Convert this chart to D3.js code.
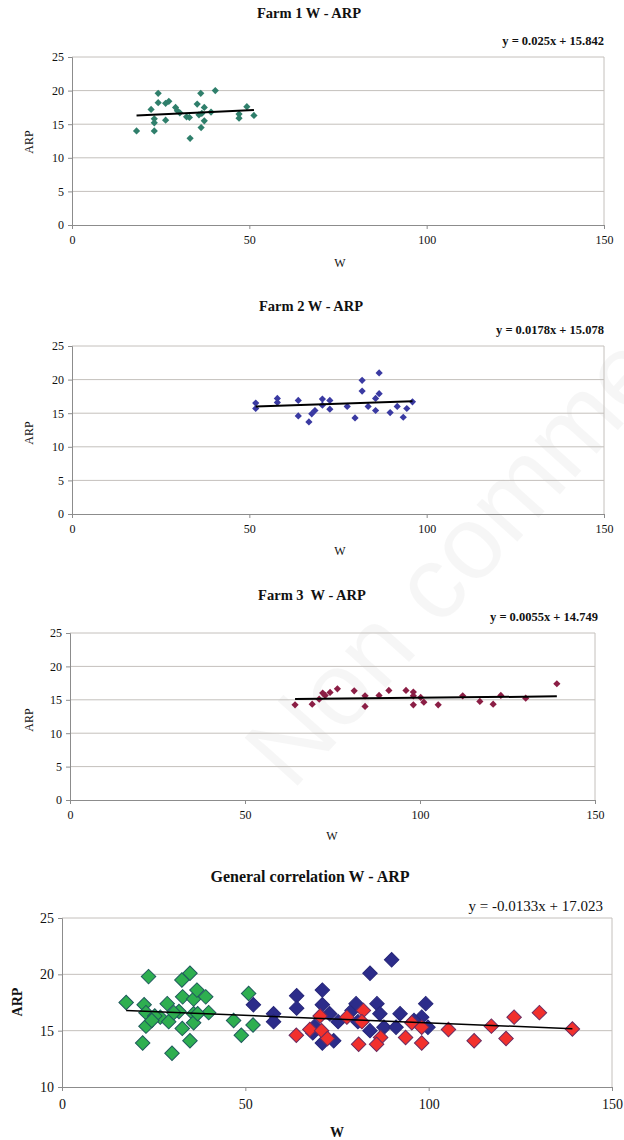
<!DOCTYPE html>
<html>
<head>
<meta charset="utf-8">
<script src="https://cdn.jsdelivr.net/npm/d3@7"></script>
<style>
  html, body { margin: 0; padding: 0; background: #fff; }
  svg { display: block; }
  svg text { font-family: "Liberation Serif", "Times New Roman", serif; }
</style>
</head>
<body>
<svg id="chart" width="624" height="1140"></svg>
<script>
// ---------------- DATA ----------------
const xTicks = [0, 50, 100, 150];
const yTicksFarm = [0, 5, 10, 15, 20, 25];
const yTicksGeneral = [10, 15, 20, 25];

const titles = ["Farm 1 W - ARP", "Farm 2 W - ARP", "Farm 3  W - ARP", "General correlation W - ARP"];
const equations = ["y = 0.025x + 15.842", "y = 0.0178x + 15.078", "y = 0.0055x + 14.749", "y = -0.0133x + 17.023"];
const slopes = [0.025, 0.0178, 0.0055, -0.0133];
const intercepts = [15.842, 15.078, 14.749, 17.023];

const farm1W   = [18.2,22.3,24.3,24.3,23.2,23.2,23.2,26.4,27.3,26.4,29.2,29.7,30.4,32.3,33.1,33.3,35.3,36.3,35.8,36.6,37.3,37.3,36.4,39.2,40.4,47.1,47.1,49.3,51.3];
const farm1ARP = [14.0,17.2,19.6,18.2,15.8,15.2,14.0,18.1,18.4,15.6,17.5,17.0,16.7,16.1,16.0,12.9,18.0,19.6,16.4,16.6,17.5,15.5,14.5,16.8,20.0,16.5,15.9,17.6,16.3];

const farm2W   = [51.8,51.8,57.9,57.9,63.8,63.8,66.8,67.6,68.5,70.6,70.6,72.7,72.7,77.6,79.8,81.8,81.8,83.5,85.6,85.6,86.6,86.6,89.7,91.7,93.4,94.4,96.0];
const farm2ARP = [16.5,15.7,17.2,16.6,16.9,14.6,13.7,14.9,15.4,17.1,16.2,16.9,15.6,16.0,14.3,19.9,18.3,16.0,15.4,17.2,17.9,21.0,15.1,16.0,14.4,15.7,16.7];

const farm3W   = [64.3,69.2,71.2,72.2,72.9,74.3,76.4,81.2,84.3,84.3,88.3,91.1,96.0,98.1,98.1,98.1,100.2,101.1,105.2,112.2,117.1,120.9,123.1,130.2,139.1];
const farm3ARP = [14.25,14.35,15.1,16.0,15.65,16.1,16.65,16.35,15.6,14.0,15.65,16.4,16.4,16.15,15.6,14.25,15.35,14.65,14.25,15.6,14.75,14.35,15.65,15.25,17.4];

const genGreenW   = [17.5,23.6,22.4,22.9,22.9,22.0,28.7,26.8,29.1,32.7,34.9,32.9,31.9,32.8,30.0,35.9,36.8,39.2,35.9,35.9,34.9,40.0,46.8,50.9,48.9,52.1,25.3,24.5,30.5,37.0];
const genGreenARP = [17.5,19.8,17.3,16.6,15.4,13.9,17.4,16.2,15.8,19.5,20.1,18.0,16.7,15.2,13.0,17.8,18.6,18.0,16.5,15.7,14.1,16.6,15.9,18.3,14.6,15.5,16.3,15.9,16.6,16.5];

const genBlueW   = [52.2,57.7,57.7,64.0,64.0,71.0,71.0,73.0,68.9,68.4,71.0,74.1,75.3,79.1,80.2,84.0,89.9,85.9,86.7,84.0,87.8,92.2,91.1,99.2,98.1,99.8,96.0,80.7];
const genBlueARP = [17.3,16.5,15.8,18.1,17.0,18.6,17.3,16.5,15.4,14.8,13.9,14.1,15.8,16.8,17.4,20.1,21.3,17.4,16.5,15.0,15.3,16.5,15.3,17.4,16.2,15.3,15.9,15.8];

const genRedW   = [63.9,67.6,70.4,70.8,72.4,77.7,82.2,81.8,80.9,86.9,85.8,93.7,95.4,98.1,98.1,105.4,112.4,117.1,121.1,123.3,130.2,139.2];
const genRedARP = [14.6,15.1,16.3,15.0,14.3,16.2,16.8,15.8,13.8,14.4,13.8,14.4,15.7,13.9,15.3,15.1,14.1,15.4,14.3,16.2,16.6,15.15];

// ---------------- DRAWING ----------------
const svg = d3.select("#chart");
const serif = "'Liberation Serif', 'Times New Roman', serif";

// faint watermark
svg.append("text")
  .attr("transform", "translate(292,792) rotate(-48)")
  .style("font-family", "'Liberation Sans', Arial, sans-serif")
  .attr("font-size", 104)
  .attr("fill", "#000")
  .attr("fill-opacity", 0.035)
  .text("Non commercial use only");

function zip(ws, as) { return ws.map((w, i) => ({ w: w, a: as[i] })); }

function panel(cfg) {
  const g = svg.append("g");
  const x = d3.scaleLinear().domain([0, 150]).range([cfg.left, cfg.right]);
  const y = d3.scaleLinear().domain(cfg.yDomain).range([cfg.bottom, cfg.top]);

  // gridlines
  g.append("g").selectAll("line").data(cfg.yTicks.filter(t => t !== cfg.yDomain[0]))
    .join("line")
    .attr("x1", cfg.left).attr("x2", cfg.right)
    .attr("y1", d => y(d)).attr("y2", d => y(d))
    .attr("stroke", "#c4c0bc").attr("stroke-width", 1);
  // right frame
  g.append("line").attr("x1", cfg.right).attr("x2", cfg.right)
    .attr("y1", cfg.top).attr("y2", cfg.bottom)
    .attr("stroke", "#c4c0bc");

  // axes
  const yAxis = d3.axisLeft(y).tickValues(cfg.yTicks).tickSize(4).tickPadding(4);
  const ya = g.append("g").attr("transform", `translate(${cfg.left},0)`).call(yAxis);
  const xAxis = d3.axisBottom(x).tickValues(xTicks).tickSize(4).tickPadding(cfg.xPad);
  const xa = g.append("g").attr("transform", `translate(0,${cfg.bottom})`).call(xAxis);
  [ya, xa].forEach(a => {
    a.attr("font-family", null);
    a.select(".domain").attr("stroke", "#8c8c8c");
    a.selectAll(".tick line").attr("stroke", "#8c8c8c");
    a.selectAll("text").style("font-family", serif).attr("font-size", cfg.tickFont).attr("fill", "#111");
  });

  // points
  cfg.series.forEach(s => {
    g.append("g").selectAll("path").data(s.data).join("path")
      .attr("d", d3.symbol().type(d3.symbolSquare).size(s.size))
      .attr("transform", d => `translate(${x(d.w)},${y(d.a)}) rotate(45)`)
      .attr("fill", s.fill)
      .attr("stroke", s.stroke || "none")
      .attr("stroke-width", s.strokeWidth || 0);
  });

  // trend line
  const allW = cfg.series.flatMap(s => s.data.map(d => d.w));
  const ext = d3.extent(allW);
  const line = d3.line().x(d => x(d)).y(d => y(cfg.slope * d + cfg.intercept));
  g.append("path").attr("d", line(ext))
    .attr("stroke", "#000").attr("stroke-width", cfg.lineWidth).attr("fill", "none");

  // title
  g.append("text").attr("x", cfg.titleX).attr("y", cfg.titleY)
    .attr("text-anchor", "middle").style("font-family", serif)
    .attr("font-weight", "bold").attr("font-size", cfg.titleFont)
    .style("white-space", "pre").attr("fill", "#111")
    .text(cfg.title);
  // equation
  g.append("text").attr("x", cfg.eqX).attr("y", cfg.eqY)
    .attr("text-anchor", "end").style("font-family", serif)
    .attr("font-weight", cfg.eqWeight).attr("font-size", cfg.eqFont).attr("fill", "#111")
    .text(cfg.eq);
  // axis titles
  g.append("text").attr("x", cfg.wX).attr("y", cfg.wY)
    .attr("text-anchor", "middle").style("font-family", serif)
    .attr("font-weight", cfg.axisWeight).attr("font-size", cfg.axisFont).attr("fill", "#111")
    .text("W");
  g.append("text").attr("transform", `translate(${cfg.arpX},${cfg.arpY}) rotate(-90)`)
    .attr("text-anchor", "middle").style("font-family", serif)
    .attr("font-weight", cfg.axisWeight).attr("font-size", cfg.axisFont).attr("fill", "#111")
    .text("ARP");
}

const smallSize = 26;
panel({
  left: 72, right: 604, top: 57, bottom: 225, yDomain: [0, 25], yTicks: yTicksFarm,
  xPad: 6, tickFont: 12,
  series: [{ data: zip(farm1W, farm1ARP), fill: "#2f7f6b", size: smallSize }],
  slope: slopes[0], intercept: intercepts[0], lineWidth: 2,
  title: titles[0], titleX: 309, titleY: 18, titleFont: 14.5,
  eq: equations[0], eqX: 604, eqY: 45, eqFont: 12.5, eqWeight: "bold",
  wX: 340, wY: 267, arpX: 33, arpY: 142, axisFont: 12, axisWeight: "normal"
});
panel({
  left: 72, right: 604, top: 346, bottom: 514, yDomain: [0, 25], yTicks: yTicksFarm,
  xPad: 6, tickFont: 12,
  series: [{ data: zip(farm2W, farm2ARP), fill: "#3a3aa2", size: smallSize }],
  slope: slopes[1], intercept: intercepts[1], lineWidth: 2,
  title: titles[1], titleX: 311, titleY: 311, titleFont: 14.5,
  eq: equations[1], eqX: 604, eqY: 334, eqFont: 12.5, eqWeight: "bold",
  wX: 340, wY: 555, arpX: 33, arpY: 433, axisFont: 12, axisWeight: "normal"
});
panel({
  left: 70, right: 595, top: 633, bottom: 800, yDomain: [0, 25], yTicks: yTicksFarm,
  xPad: 6, tickFont: 12,
  series: [{ data: zip(farm3W, farm3ARP), fill: "#8b1e45", size: smallSize }],
  slope: slopes[2], intercept: intercepts[2], lineWidth: 2,
  title: titles[2], titleX: 312, titleY: 600, titleFont: 14.5,
  eq: equations[2], eqX: 598, eqY: 621, eqFont: 12.5, eqWeight: "bold",
  wX: 332, wY: 840, arpX: 33, arpY: 720, axisFont: 12, axisWeight: "normal"
});
panel({
  left: 62, right: 612, top: 918, bottom: 1087, yDomain: [10, 25], yTicks: yTicksGeneral,
  xPad: 8, tickFont: 14,
  series: [
    { data: zip(genGreenW, genGreenARP), fill: "#2eaf50", stroke: "#1e5a5c", strokeWidth: 1, size: 105 },
    { data: zip(genBlueW, genBlueARP), fill: "#2c2c8a", stroke: "#27277a", strokeWidth: 1, size: 105 },
    { data: zip(genRedW, genRedARP), fill: "#f2302c", stroke: "#6b2c60", strokeWidth: 1, size: 105 }
  ],
  slope: slopes[3], intercept: intercepts[3], lineWidth: 1.5,
  title: titles[3], titleX: 310, titleY: 882, titleFont: 16,
  eq: equations[3], eqX: 603, eqY: 911, eqFont: 15, eqWeight: "normal",
  wX: 337, wY: 1137, arpX: 22, arpY: 1002, axisFont: 14, axisWeight: "bold"
});
</script>
</body>
</html>
